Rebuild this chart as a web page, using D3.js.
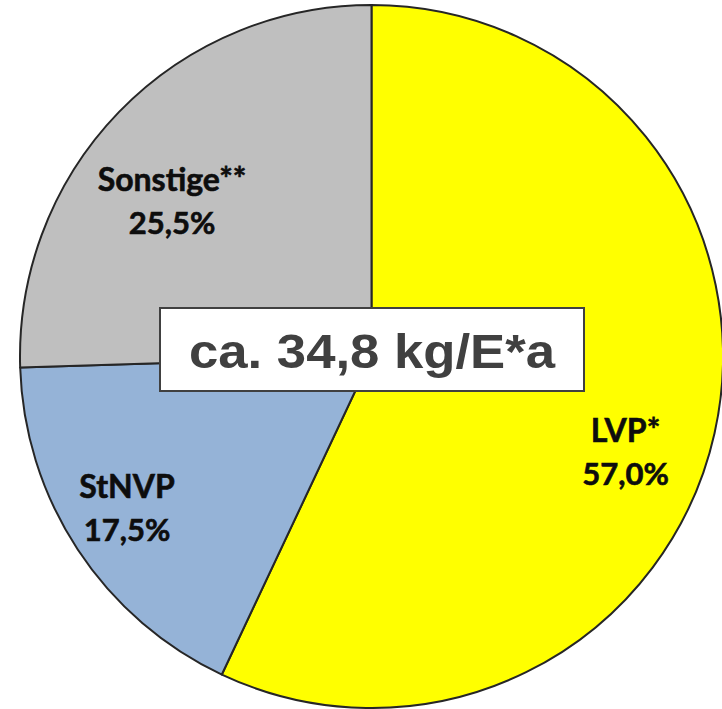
<!DOCTYPE html>
<html><head><meta charset="utf-8">
<script src="https://cdn.jsdelivr.net/npm/d3@7"></script>
<style>html,body{margin:0;padding:0;background:#fff;overflow:hidden}</style>
</head><body>
<svg id="c" width="722" height="709"></svg>
<script>
const categories = ["LVP*", "StNVP", "Sonstige**"];
const values = [57.0, 17.5, 25.5];
const valueLabels = ["57,0%", "17,5%", "25,5%"];
const colors = ["#ffff00", "#95b3d7", "#bfbfbf"];
const totalLabel = "ca. 34,8 kg/E*a";

const svg = d3.select("#c");
const cx = 371.5, cy = 356.5, r = 351.5;
const g = svg.append("g").attr("transform", `translate(${cx},${cy})`);
const pie = d3.pie().sort(null).value(d => d.v);
const data = pie(categories.map((c, i) => ({c, v: values[i], l: valueLabels[i], col: colors[i]})));
const arc = d3.arc().innerRadius(0).outerRadius(r);
g.selectAll("path").data(data).join("path")
  .attr("d", arc).attr("fill", d => d.data.col)
  .attr("stroke", "#262626").attr("stroke-width", 2).attr("stroke-linejoin", "round");

const labelPos = [[254, 85.5], [-244.5, 141.5], [-199.5, -165.5]];
const lab = g.selectAll("g.lab").data(data).join("g").attr("class", "lab")
  .attr("transform", (d, i) => `translate(${labelPos[i][0]},${labelPos[i][1]})`);
lab.append("text").attr("text-anchor", "middle").attr("y", 0)
  .attr("font-family", "Lato, 'Open Sans', sans-serif").attr("font-weight", "bold")
  .attr("font-size", 32).attr("fill", "#0d0d0d").attr("stroke", "#0d0d0d").attr("stroke-width", 0.6)
  .text(d => d.data.c);
lab.append("text").attr("text-anchor", "middle").attr("y", 42.5)
  .attr("font-family", "Lato, 'Open Sans', sans-serif").attr("font-weight", "bold")
  .attr("font-size", 31).attr("fill", "#0d0d0d").attr("stroke", "#0d0d0d").attr("stroke-width", 0.6)
  .text(d => d.data.l);

svg.append("rect").attr("x", 160).attr("y", 308).attr("width", 424).attr("height", 83)
  .attr("fill", "#fff").attr("stroke", "#404040").attr("stroke-width", 2);
svg.append("text").attr("x", 372).attr("y", 368).attr("text-anchor", "middle")
  .attr("font-family", "'Liberation Sans', Arial, sans-serif").attr("font-weight", "bold")
  .attr("font-size", 48).attr("fill", "#404040")
  .attr("textLength", 366).attr("lengthAdjust", "spacingAndGlyphs")
  .text(totalLabel);
</script>
</body></html>
